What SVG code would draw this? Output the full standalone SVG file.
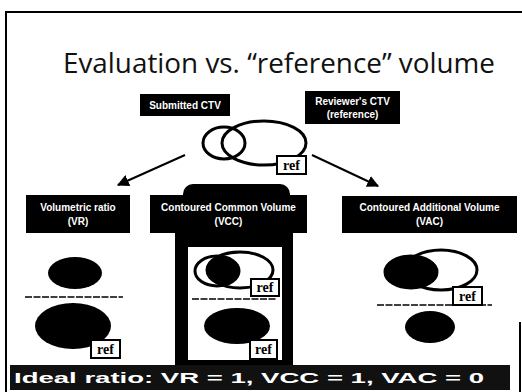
<svg xmlns="http://www.w3.org/2000/svg" width="522" height="392" viewBox="0 0 522 392">
  <style>
    .frame { fill: none; stroke: #000; stroke-width: 2; }
    .title { font-family: "Open Sans", "Liberation Sans", sans-serif; font-size: 27px; fill: #111; }
    .lbl-box { fill: #000; }
    .lbl { font-family: "Liberation Sans Narrow", "Liberation Sans", sans-serif; font-size: 10px; font-weight: bold; fill: #fff; text-anchor: middle; }
    .outline { fill: none; stroke: #000; stroke-width: 3; }
    .solid { fill: #000; }
    .ref-box { fill: #fff; stroke: #000; stroke-width: 2; }
    .ref { font-family: "Liberation Serif", serif; font-size: 14px; font-weight: bold; fill: #000; text-anchor: middle; }
    .divider { stroke: #000; stroke-width: 1.6; stroke-dasharray: 7 1.5; }
    .arrow { stroke: #000; stroke-width: 2; fill: none; marker-end: url(#head); }
    .bar-text { font-family: "Liberation Sans", sans-serif; font-size: 15px; font-weight: bold; fill: #fff; }
  </style>
  <defs>
    <marker id="head" viewBox="0 0 10 10" refX="9" refY="5" markerWidth="6" markerHeight="6" orient="auto">
      <path d="M0,0 L10,5 L0,10 z" fill="#000"/>
    </marker>
    <clipPath id="ccv-ref">
      <ellipse cx="240" cy="270" rx="33" ry="18"/>
    </clipPath>
  </defs>

  <rect width="522" height="392" fill="#fff"/>

  <!-- slide border -->
  <path class="frame" d="M6,392 V12 H522"/>
  <path class="frame" d="M520,322 V392"/>

  <text class="title" x="63" y="73" textLength="432" lengthAdjust="spacingAndGlyphs">Evaluation vs. “reference” volume</text>

  <!-- source contours -->
  <g id="submitted">
    <rect class="lbl-box" x="140" y="94" width="90" height="22"/>
    <text class="lbl" x="185" y="108.5">Submitted CTV</text>
  </g>
  <g id="reviewer">
    <rect class="lbl-box" x="305" y="91" width="95" height="33"/>
    <text class="lbl" x="352.5" y="104.5">Reviewer's CTV</text>
    <text class="lbl" x="352.5" y="118">(reference)</text>
  </g>
  <g id="overlap">
    <ellipse class="outline" cx="224" cy="143" rx="21" ry="16"/>
    <ellipse class="outline" cx="264" cy="143" rx="42" ry="22"/>
    <rect class="ref-box" x="277" y="156" width="29" height="18"/>
    <text class="ref" x="291.5" y="170">ref</text>
  </g>

  <g id="connectors">
    <line class="arrow" x1="185" y1="155" x2="118" y2="185"/>
    <line class="arrow" x1="312" y1="155" x2="378" y2="186"/>
  </g>

  <!-- volume ratio -->
  <g id="vr">
    <rect class="lbl-box" x="26" y="195" width="104" height="38"/>
    <text class="lbl" x="78" y="210.5">Volumetric ratio</text>
    <text class="lbl" x="78" y="225">(VR)</text>
    <ellipse class="solid" cx="75" cy="273" rx="27" ry="16"/>
    <line class="divider" x1="25" y1="297" x2="123" y2="297"/>
    <ellipse class="solid" cx="73" cy="326" rx="38" ry="23" fill="#151515"/>
    <rect class="ref-box" x="91" y="340" width="29" height="18"/>
    <text class="ref" x="105.5" y="354">ref</text>
  </g>

  <!-- common volume (highlighted) -->
  <g id="vcc">
    <rect class="lbl-box" x="183" y="184" width="107" height="22" rx="10"/>
    <rect class="lbl-box" x="150" y="195" width="157" height="38"/>
    <path class="solid" fill-rule="evenodd" d="M175,230 H293 V366 H175 Z M188,247 V360 H282 V247 Z"/>
    <text class="lbl" x="228.5" y="210.5">Contoured Common Volume</text>
    <text class="lbl" x="228.5" y="225">(VCC)</text>
    <ellipse class="solid" cx="217" cy="271" rx="22" ry="15" clip-path="url(#ccv-ref)"/>
    <ellipse class="outline" cx="217" cy="271" rx="22" ry="15"/>
    <ellipse class="outline" cx="240" cy="270" rx="33" ry="18"/>
    <rect class="ref-box" x="251" y="279" width="28" height="17"/>
    <text class="ref" x="265" y="292">ref</text>
    <line class="divider" x1="192" y1="299" x2="277" y2="299"/>
    <ellipse class="solid" cx="237" cy="326" rx="33" ry="18"/>
    <rect class="ref-box" x="250" y="340" width="27" height="19"/>
    <text class="ref" x="263.5" y="354">ref</text>
  </g>

  <!-- additional volume -->
  <g id="vac">
    <rect class="lbl-box" x="342" y="196" width="175" height="37"/>
    <text class="lbl" x="429.5" y="210.5">Contoured Additional Volume</text>
    <text class="lbl" x="429.5" y="225">(VAC)</text>
    <ellipse class="solid" cx="411" cy="272" rx="26" ry="16"/>
    <ellipse class="outline" cx="441" cy="270" rx="36" ry="20" fill="#fff"/>
    <ellipse class="outline" cx="411" cy="272" rx="26" ry="16"/>
    <rect class="ref-box" x="453" y="287" width="29" height="18"/>
    <text class="ref" x="467.5" y="301">ref</text>
    <line class="divider" x1="377" y1="305" x2="492" y2="305"/>
    <ellipse class="solid" cx="430" cy="327" rx="25" ry="16"/>
  </g>

  <!-- summary bar -->
  <g id="ideal">
    <rect x="10" y="365" width="500" height="25" fill="#111"/>
    <text class="bar-text" x="14" y="383" textLength="470" lengthAdjust="spacingAndGlyphs">Ideal ratio: VR = 1, VCC = 1, VAC = 0</text>
  </g>
</svg>
